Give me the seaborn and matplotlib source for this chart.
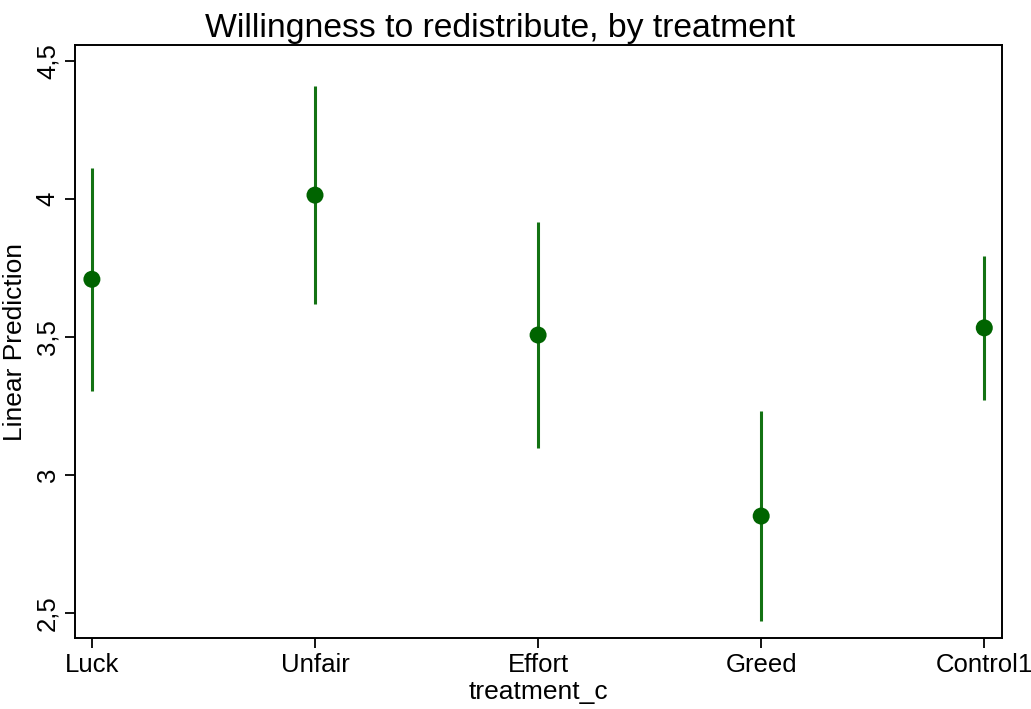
import numpy as np
import pandas as pd
import matplotlib
matplotlib.use('Agg')
import matplotlib.pyplot as plt
import seaborn as sns

# Margins estimates
treatments = ['Luck', 'Unfair', 'Effort', 'Greed', 'Control1']
predictions = [3.709, 4.014, 3.507, 2.851, 3.533]
ci_half = [0.404, 0.395, 0.410, 0.380, 0.261]

y_ticks = [2.5, 3.0, 3.5, 4.0, 4.5]
y_tick_labels = ['2,5', '3', '3,5', '4', '4,5']

sns.set_theme(style='ticks')
plt.rcParams['font.family'] = ['Liberation Sans', 'DejaVu Sans']
plt.rcParams['text.color'] = 'black'
plt.rcParams['axes.labelcolor'] = 'black'
plt.rcParams['xtick.color'] = 'black'
plt.rcParams['ytick.color'] = 'black'

df = pd.DataFrame({'treatment_c': treatments, 'pred': predictions, 'half': ci_half})
df['lo'] = df['pred'] - df['half']
df['hi'] = df['pred'] + df['half']

fig = plt.figure(figsize=(10.31, 7.09), dpi=100)
ax = fig.add_axes([0.0727, 0.1001, 0.8993, 0.8364])

line_color = '#137213'
marker_color = '#006400'

# Confidence intervals as vertical lines
ax.vlines(np.arange(len(df)), df['lo'], df['hi'], color=line_color, linewidth=2.2, zorder=2)
sns.scatterplot(data=df, x='treatment_c', y='pred', ax=ax, s=150, color=marker_color,
                edgecolor='none', zorder=3, legend=False)

ax.set_xlim(-0.076, 4.08)
ax.set_ylim(2.409, 4.558)
ax.set_xticks(range(len(treatments)))
ax.set_xticklabels(treatments, fontsize=18.5)
ax.set_yticks(y_ticks)
ax.set_yticklabels(y_tick_labels, fontsize=18.5, rotation=90, va='center')
ax.tick_params(axis='both', direction='out', length=7, width=1.3, color='black', pad=4)

for side in ['left', 'right', 'top', 'bottom']:
    ax.spines[side].set_visible(True)
    ax.spines[side].set_linewidth(1.4)
    ax.spines[side].set_color('black')

ax.set_xlabel('treatment_c', fontsize=19, labelpad=2)
ax.set_ylabel('Linear Prediction', fontsize=19, labelpad=6)
# Title is centred on the whole graph, not the plot region
ax.set_title('Willingness to redistribute, by treatment', fontsize=24.3, pad=6, x=0.458)

fig.savefig('out.png', dpi=100)
